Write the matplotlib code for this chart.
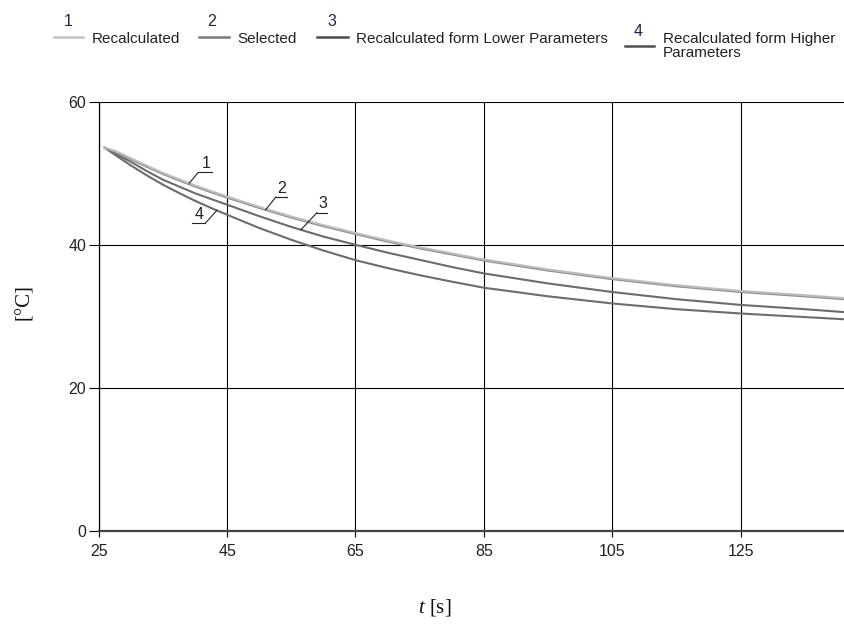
import numpy as np
import matplotlib
matplotlib.use("Agg")
import matplotlib.pyplot as plt
from matplotlib.lines import Line2D

plt.rcParams['font.family'] = ['Liberation Sans', 'DejaVu Sans']
plt.rcParams['mathtext.fontset'] = 'custom'
plt.rcParams['mathtext.it'] = 'Liberation Serif:italic'
plt.rcParams['mathtext.rm'] = 'Liberation Serif'

# time [s]
t = np.array([25.9, 27.5, 30, 32.5, 35, 37.5, 40, 42.5, 45, 50, 55, 60, 65, 70, 75,
              80, 85, 95, 105, 115, 125, 135, 141])
# temperature [°C]
recalculated = np.array([53.6, 53.15, 52.1, 51.05, 50.05, 49.15, 48.3, 47.5, 46.75, 45.3,
                         43.95, 42.75, 41.65, 40.6, 39.65, 38.8, 37.95, 36.55, 35.35,
                         34.35, 33.55, 32.95, 32.55])
selected = np.array([53.6, 53.0, 51.95, 50.9, 49.9, 49.0, 48.15, 47.35, 46.6, 45.15,
                     43.8, 42.6, 41.5, 40.45, 39.5, 38.65, 37.8, 36.4, 35.2,
                     34.2, 33.4, 32.8, 32.4])
recalc_lower = np.array([53.6, 52.8, 51.6, 50.3, 49.1, 48.15, 47.2, 46.4, 45.6, 44.0,
                         42.5, 41.15, 40.0, 38.9, 37.9, 36.9, 36.0, 34.6, 33.4,
                         32.4, 31.6, 31.0, 30.6])
recalc_higher = np.array([53.6, 52.6, 51.1, 49.7, 48.4, 47.25, 46.15, 45.15, 44.2, 42.35,
                          40.7, 39.2, 37.85, 36.75, 35.75, 34.85, 34.0, 32.8, 31.8,
                          31.0, 30.4, 29.9, 29.6])

series = [recalculated, selected, recalc_lower, recalc_higher]
names = ["Recalculated", "Selected", "Recalculated form Lower Parameters",
         "Recalculated form Higher\nParameters"]
colors = ["#bcbcbc", "#8e8e8e", "#6c6c6c", "#6c6c6c"]
legend_colors = ["#c4c4c4", "#7c7c7c", "#4c4c4c", "#505050"]

xticks = [25, 45, 65, 85, 105, 125]
yticks = [0, 20, 40, 60]

W, H = 844, 625
fig = plt.figure(figsize=(W / 100, H / 100), dpi=100)
ax = fig.add_axes([98.7 / W, 1 - 531 / H, 1 - 98.7 / W, (531 - 101.7) / H])


def px(x, y):
    return x / W, 1 - y / H


for ys, c in zip(series[::-1], colors[::-1]):
    ax.plot(t, ys, color=c, lw=1.5, solid_capstyle='round', solid_joinstyle='round', zorder=3)

ax.set_xlim(25, 141.1)
ax.set_ylim(0, 60)
ax.set_xticks(xticks)
ax.set_yticks(yticks)
ax.grid(True, color='black', lw=0.8, zorder=1)
ax.tick_params(axis='x', length=4.5, width=0.8, pad=5, labelsize=11.5, color='black')
ax.tick_params(axis='y', length=7, width=0.8, pad=2, labelsize=11.5, color='black')
for lab in ax.get_xticklabels() + ax.get_yticklabels():
    lab.set_color('#222222')
for s in ['top', 'right']:
    ax.spines[s].set_visible(False)
ax.spines['left'].set_linewidth(0.9)
ax.spines['bottom'].set_linewidth(1.6)
ax.spines['bottom'].set_color('#444444')
ax.spines['bottom'].set_zorder(4)

# curve labels with leader lines: (anchor t, underline dx0, dx1, dy, side)
callouts = [
    ("1", 39.1, 1.4, 3.6, 1.5, 'left'),
    ("2", 51.0, 1.6, 3.3, 1.8, 'left'),
    ("3", 56.5, 2.5, 4.1, 2.4, 'left'),
    ("4", 43.4, -3.8, -1.8, -1.8, 'right'),
]
for (num, ta, dx0, dx1, dy, side), ys in zip(callouts, series):
    ya = np.interp(ta, t, ys)
    uy = ya + dy
    ux0, ux1 = ta + dx0, ta + dx1
    join = ux0 if side == 'left' else ux1
    ax.plot([ta, join], [ya, uy], color='#222222', lw=0.8, zorder=5)
    ax.plot([ux0, ux1], [uy, uy], color='#222222', lw=0.8, zorder=5)
    ax.text((ux0 + ux1) / 2 + 0.1, uy + 0.2, num, ha='center', va='bottom',
            fontsize=11.5, color='#222222', zorder=5)

# legend on top
leg_items = [
    (54, 83, 37, 67.7, 21.5, 92, 39),
    (199, 229, 37, 211.7, 21.5, 237, 39),
    (317, 348, 37, 332, 21.5, 356, 39),
    (625, 654, 45.7, 638, 32, 663, 46),
]
for (x0, x1, ly, nx, ny, tx, ty), c, name, num in zip(leg_items, legend_colors, names, "1234"):
    (fx0, fy), (fx1, _) = px(x0, ly), px(x1, ly)
    fig.add_artist(Line2D([fx0, fx1], [fy, fy], color=c, lw=1.8, transform=fig.transFigure))
    fig.text(*px(nx, ny), num, ha='center', va='center', fontsize=11.5, color='#222244')
    fig.text(*px(tx, ty), name, ha='left', va='center', fontsize=11, color='#222222',
             linespacing=0.95)

fig.text(*px(25, 302), "[°C]", rotation=90, ha='center', va='center',
         family='Liberation Serif', fontsize=15, color='#111111')
fig.text(*px(435, 608), r"$t$ [s]", ha='center', va='center',
         family='Liberation Serif', fontsize=15, color='#111111')

fig.savefig("out.png", dpi=100)
